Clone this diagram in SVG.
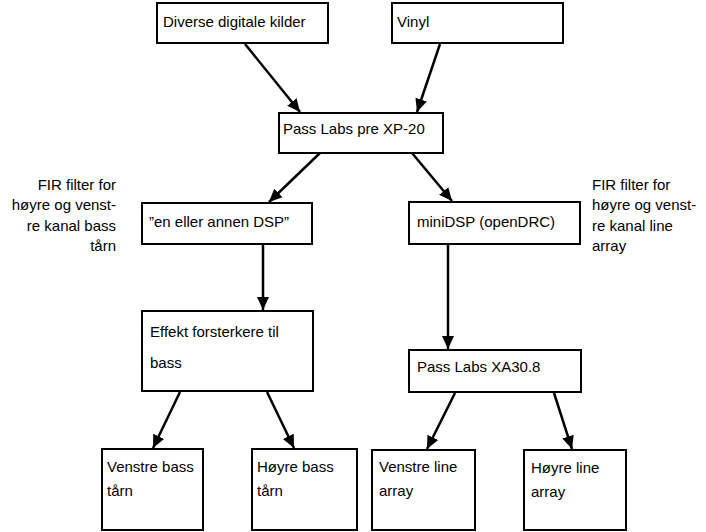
<svg xmlns="http://www.w3.org/2000/svg" width="706" height="532" viewBox="0 0 706 532">
<style>
.box{fill:#fff;stroke:#000;stroke-width:2}
.t{font-family:"Liberation Sans",Arial,sans-serif;font-size:15px;fill:#000}
.c{stroke:#000;stroke-width:2.5;fill:none;marker-end:url(#ah)}
</style>
<defs>
<marker id="ah" markerUnits="userSpaceOnUse" markerWidth="14" markerHeight="14" viewBox="0 0 14 14" refX="13" refY="7" orient="auto">
<path d="M0,1 L13,7 L0,13 Z" fill="#000"/>
</marker>
</defs>
<rect width="706" height="532" fill="#fff"/>
<g id="connectors">
<line class="c" x1="245" y1="44" x2="300" y2="112"/>
<line class="c" x1="440" y1="44" x2="417" y2="112"/>
<line class="c" x1="320" y1="153" x2="269" y2="202"/>
<line class="c" x1="412" y1="153" x2="452" y2="201"/>
<line class="c" x1="263" y1="245" x2="263" y2="310"/>
<line class="c" x1="448" y1="245" x2="448" y2="349"/>
<line class="c" x1="180" y1="392" x2="153" y2="448"/>
<line class="c" x1="267" y1="392" x2="294" y2="448"/>
<line class="c" x1="455" y1="393" x2="427" y2="449"/>
<line class="c" x1="554" y1="393" x2="572" y2="449"/>
</g>
<g id="n-digital"><rect class="box" x="157" y="3" width="171" height="40"/><text class="t" x="163" y="27">Diverse digitale kilder</text></g>
<g id="n-vinyl"><rect class="box" x="392" y="3" width="171" height="40"/><text class="t" x="397" y="27">Vinyl</text></g>
<g id="n-xp20"><rect class="box" x="279" y="113" width="164" height="40"/><text class="t" x="283" y="134">Pass Labs pre XP-20</text></g>
<g id="n-dsp"><rect class="box" x="142" y="203" width="170" height="41"/><text class="t" x="149" y="227">”en eller annen DSP”</text></g>
<g id="n-minidsp"><rect class="box" x="409" y="202" width="171" height="42"/><text class="t" x="417" y="227">miniDSP (openDRC)</text></g>
<g id="note-left"><text class="t" text-anchor="end"><tspan x="116" y="190">FIR filter for</tspan><tspan x="116" y="210">høyre og venst-</tspan><tspan x="116" y="231">re kanal bass</tspan><tspan x="116" y="251">tårn</tspan></text></g>
<g id="note-right"><text class="t"><tspan x="592" y="190">FIR filter for</tspan><tspan x="592" y="210">høyre og venst-</tspan><tspan x="592" y="231">re kanal line</tspan><tspan x="592" y="251">array</tspan></text></g>
<g id="n-effekt"><rect class="box" x="142" y="311" width="171" height="80"/><text class="t"><tspan x="150" y="337">Effekt forsterkere til</tspan><tspan x="150" y="368">bass</tspan></text></g>
<g id="n-xa30"><rect class="box" x="409" y="350" width="172" height="42"/><text class="t" x="417" y="372">Pass Labs XA30.8</text></g>
<g id="n-vbass"><rect class="box" x="102" y="449" width="101" height="81"/><text class="t"><tspan x="107" y="472">Venstre bass</tspan><tspan x="107" y="496">tårn</tspan></text></g>
<g id="n-hbass"><rect class="box" x="252" y="449" width="105" height="81"/><text class="t"><tspan x="257" y="472">Høyre bass</tspan><tspan x="257" y="496">tårn</tspan></text></g>
<g id="n-vline"><rect class="box" x="372" y="450" width="103" height="80"/><text class="t"><tspan x="379" y="472">Venstre line</tspan><tspan x="379" y="496">array</tspan></text></g>
<g id="n-hline"><rect class="box" x="524" y="450" width="102" height="80"/><text class="t"><tspan x="531" y="473">Høyre line</tspan><tspan x="531" y="497">array</tspan></text></g>
</svg>
